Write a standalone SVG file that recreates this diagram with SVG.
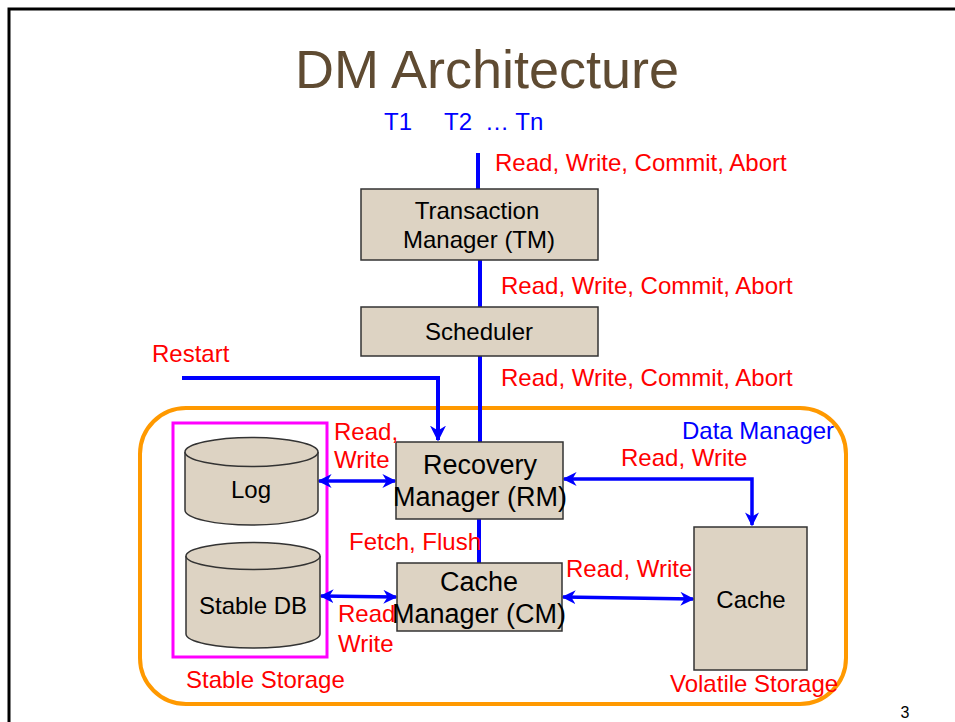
<svg xmlns="http://www.w3.org/2000/svg" width="955" height="722" viewBox="0 0 955 722">
  <style>
    text { font-family: "Liberation Sans", Arial, sans-serif; }
    .box { fill: #ddd3c3; stroke: #333; stroke-width: 1.5; }
    .lbl { fill: #ff0000; font-size: 24px; }
    .blu { fill: #0000ff; font-size: 24px; }
    .nt { fill: #000; font-size: 24px; text-anchor: middle; }
    .nt27 { fill: #000; font-size: 27px; text-anchor: middle; }
    .wire { stroke: #0000ff; stroke-width: 4; fill: none; }
    .wire2 { stroke: #0000ff; stroke-width: 3.5; fill: none; }
  </style>
  <defs>
    <marker id="ah" viewBox="0 0 10 10" refX="9" refY="5" markerWidth="4" markerHeight="4" orient="auto-start-reverse" markerUnits="strokeWidth">
      <path d="M0,0 L10,5 L0,10 L3,5 Z" fill="#0000ff"/>
    </marker>
  </defs>

  <rect width="955" height="722" fill="#fff"/>
  <!-- slide frame -->
  <path d="M9,722 V9 H955" fill="none" stroke="#000" stroke-width="3"/>

  <text x="487" y="88" text-anchor="middle" font-size="54" fill="#5f4b32">DM Architecture</text>
  <text x="384" y="130" class="blu" font-size="23">T1</text>
  <text x="444" y="130" class="blu" font-size="23">T2</text>
  <text x="485" y="130" class="blu" font-size="23">… Tn</text>

  <!-- enclosures -->
  <rect x="140" y="408" width="706" height="296" rx="46" fill="none" stroke="#ff9900" stroke-width="4"/>
  <rect x="173" y="423" width="154" height="234" fill="none" stroke="#ff00ff" stroke-width="3"/>

  <!-- connectors -->
  <g id="connectors">
    <line class="wire" x1="478" y1="153" x2="478" y2="189"/>
    <line class="wire" x1="480" y1="260" x2="480" y2="307"/>
    <line class="wire" x1="480" y1="356" x2="480" y2="442"/>
    <path class="wire" d="M182,378 H438 V440" marker-end="url(#ah)"/>
    <line class="wire2" x1="319" y1="481" x2="395" y2="481" marker-start="url(#ah)" marker-end="url(#ah)"/>
    <path class="wire2" d="M564,479 H752 V525" marker-start="url(#ah)" marker-end="url(#ah)"/>
    <line class="wire" x1="479" y1="519" x2="479" y2="563"/>
    <line class="wire2" x1="321" y1="596" x2="396" y2="597" marker-start="url(#ah)" marker-end="url(#ah)"/>
    <line class="wire2" x1="563" y1="597" x2="693" y2="599" marker-start="url(#ah)" marker-end="url(#ah)"/>
  </g>

  <g id="tm">
    <rect class="box" x="361" y="189" width="237" height="71"/>
    <text class="nt" x="477" y="219">Transaction</text>
    <text class="nt" x="479" y="248">Manager (TM)</text>
  </g>
  <g id="scheduler">
    <rect class="box" x="361" y="307" width="237" height="49"/>
    <text class="nt" x="479" y="340">Scheduler</text>
  </g>
  <g id="rm">
    <rect class="box" x="396" y="442" width="167" height="77"/>
    <text class="nt27" x="480" y="474">Recovery</text>
    <text class="nt27" x="480" y="506">Manager (RM)</text>
  </g>
  <g id="cm">
    <rect class="box" x="397" y="563" width="165" height="68"/>
    <text class="nt27" x="479" y="591">Cache</text>
    <text class="nt27" x="479" y="623">Manager (CM)</text>
  </g>
  <g id="cache">
    <rect class="box" x="694" y="527" width="113" height="143"/>
    <text class="nt" x="751" y="608">Cache</text>
  </g>
  <g id="log">
    <path class="box" d="M185,452 V510 A66.5,15 0 0 0 318,510 V452"/>
    <ellipse class="box" cx="251.5" cy="452" rx="66.5" ry="14.5"/>
    <text class="nt" x="251" y="498">Log</text>
  </g>
  <g id="stabledb">
    <path class="box" d="M186,556 V634 A67,14 0 0 0 320,634 V556"/>
    <ellipse class="box" cx="253" cy="556" rx="67" ry="13.5"/>
    <text class="nt" x="253" y="614">Stable DB</text>
  </g>

  <!-- labels -->
  <text class="lbl" x="495" y="171">Read, Write, Commit, Abort</text>
  <text class="lbl" x="501" y="294">Read, Write, Commit, Abort</text>
  <text class="lbl" x="501" y="386">Read, Write, Commit, Abort</text>
  <text class="lbl" x="152" y="362">Restart</text>
  <text class="lbl" x="334" y="440">Read,</text>
  <text class="lbl" x="334" y="468">Write</text>
  <text class="lbl" x="349" y="550">Fetch, Flush</text>
  <text class="lbl" x="338" y="622">Read</text>
  <text class="lbl" x="338" y="652">Write</text>
  <text class="lbl" x="186" y="688">Stable Storage</text>
  <text class="lbl" x="621" y="466">Read, Write</text>
  <text class="lbl" x="566" y="577">Read, Write</text>
  <text class="blu" x="682" y="439">Data Manager</text>
  <text class="lbl" x="670" y="692">Volatile Storage</text>
  <text x="905" y="718" font-size="16" fill="#000" text-anchor="middle">3</text>
</svg>
